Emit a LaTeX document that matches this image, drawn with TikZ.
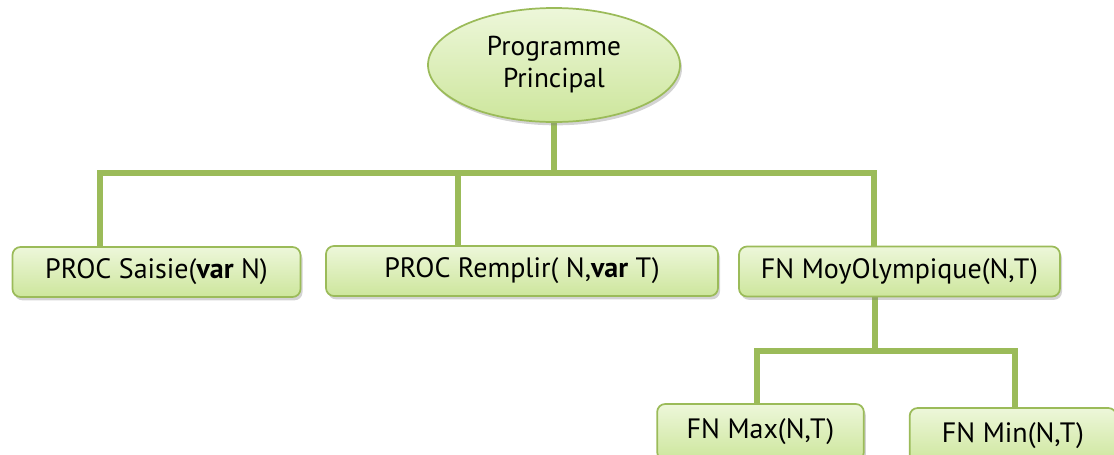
\documentclass[tikz,border=0pt]{standalone}
\usepackage{fontspec}
\setmainfont{PT Sans}
\usetikzlibrary{shapes.geometric,shadows,backgrounds}
\definecolor{olive}{HTML}{9BBB59}
\definecolor{boxtop}{HTML}{EDF7DA}
\definecolor{boxbot}{HTML}{CDE69C}
\tikzset{
  x=0.75pt, y=-0.75pt,
  leaf/.style={draw=olive, line width=1.3pt, rounded corners=6pt,
    top color=boxtop, bottom color=boxbot, inner sep=0pt,
    minimum height=37.5pt,
    font=\fontsize{21}{25}\selectfont,
    drop shadow={opacity=0.35, shadow xshift=1.5pt, shadow yshift=-2.5pt}},
  root/.style={draw=olive, line width=1.3pt, ellipse, inner sep=0pt,
    top color=boxtop, bottom color=boxbot, align=center,
    minimum width=189pt, minimum height=85.5pt,
    font=\fontsize{20.5}{24}\selectfont,
    drop shadow={opacity=0.35, shadow xshift=1.5pt, shadow yshift=-2.5pt}},
  link/.style={draw=olive, line width=3.8pt, line join=miter, line cap=butt}
}
\begin{document}
\begin{tikzpicture}
\useasboundingbox (0,0) rectangle (1114,454);
\clip (0,0) rectangle (1114,454);

% the module boxes
\node[root] (pp) at (554,65) {Programme\\Principal};
\node[leaf, minimum width=216pt] (saisie) at (156.5,272) {PROC Saisie(\textbf{var} N)};
\node[leaf, minimum width=294pt] (remplir) at (522,271) {PROC Remplir( N,\textbf{var} T)};
\node[leaf, minimum width=240.75pt] (moy) at (899.5,271.5) {FN MoyOlympique(N,T)};
\node[leaf, minimum width=155pt, minimum height=42pt] (max) at (760.5,432) {FN Max(N,T)};
\node[leaf, minimum width=155pt, minimum height=42pt] (min) at (1013,436) {FN Min(N,T)};

% branch points of the tree
\coordinate (bl) at (100,173);
\coordinate (bm) at (458,173);
\coordinate (bc) at (554,173);
\coordinate (br) at (874,173);
\coordinate (sl) at (757,351);
\coordinate (sc) at (875,351);
\coordinate (sr) at (1015,351);

% connectors behind the boxes
\begin{scope}[on background layer]
  \draw[link] (pp.south) -- (bc);
  \draw[link] (bl |- saisie.north) -- (bl) -- (br) -- (br |- moy.north);
  \draw[link] (bm) -- (bm |- remplir.north);
  \draw[link] (sc |- moy.south) -- (sc);
  \draw[link] (sl |- max.north) -- (sl) -- (sr) -- (sr |- min.north);
\end{scope}
\end{tikzpicture}
\end{document}
